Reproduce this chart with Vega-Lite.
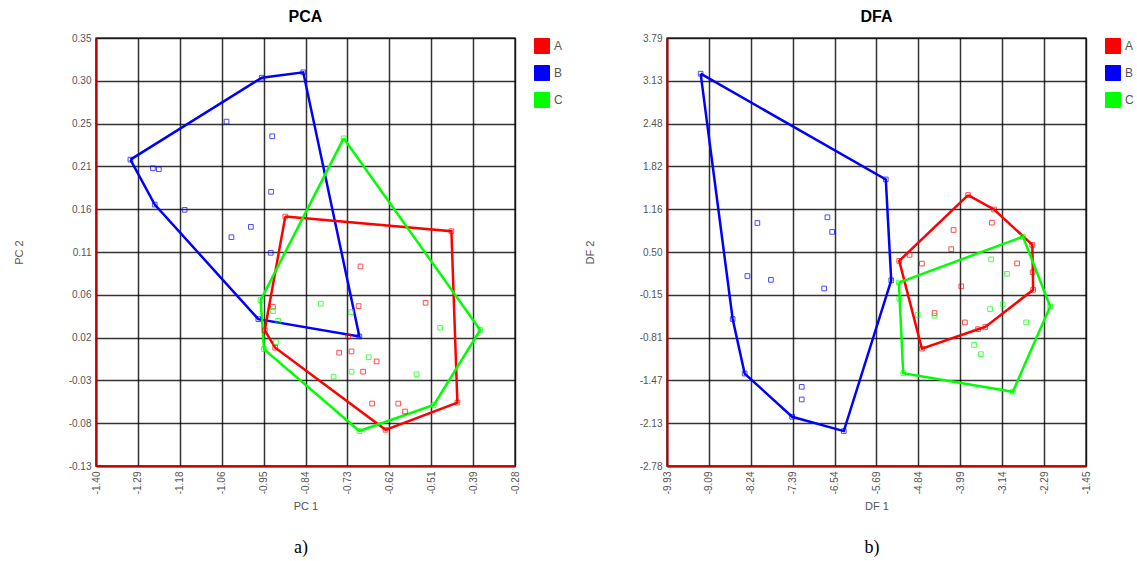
{
  "$schema": "https://vega.github.io/schema/vega-lite/v6.json",
  "background": "white",
  "padding": {"left": 12, "top": 8, "right": 5, "bottom": 4},
  "config": {
    "view": {"stroke": "#444", "strokeWidth": 1.5},
    "font": "Liberation Sans",
    "axis": {"labelColor": "#555", "labelFontSize": 10, "labelFont": "Liberation Sans", "ticks": false, "domainColor": "#c00000", "domainWidth": 2, "gridColor": "#000", "gridWidth": 1.5, "gridOpacity": 0.8, "titleFontSize": 11, "titleFontWeight": "normal", "titleColor": "#555", "titleFont": "Liberation Sans", "labelPadding": 5},
    "axisX": {"labelAngle": -90, "titlePadding": 7},
    "axisY": {"titlePadding": 44},
    "title": {"fontSize": 16, "fontWeight": "bold", "color": "#000", "font": "Liberation Sans", "offset": 8},
    "legend": {"orient": "right", "offset": 19, "padding": 0, "symbolType": "square", "symbolSize": 225, "labelFontSize": 12, "labelColor": "#555", "labelFont": "Liberation Sans", "rowPadding": 7, "labelOffset": 4}
  },
  "datasets": {
    "pca_pts": [
      {"g": "B", "x": -1.308, "y": 0.2136}, {"g": "B", "x": -0.957, "y": 0.3055}, {"g": "B", "x": -0.846, "y": 0.3115}, {"g": "B", "x": -0.696, "y": 0.0153}, {"g": "B", "x": -0.966, "y": 0.0347}, {"g": "B", "x": -1.243, "y": 0.1632},
      {"g": "B", "x": -1.248, "y": 0.2039}, {"g": "B", "x": -1.232, "y": 0.2028}, {"g": "B", "x": -1.163, "y": 0.1573}, {"g": "B", "x": -1.051, "y": 0.2562}, {"g": "B", "x": -0.929, "y": 0.2398}, {"g": "B", "x": -0.932, "y": 0.1775}, {"g": "B", "x": -0.986, "y": 0.1382}, {"g": "B", "x": -1.038, "y": 0.1266}, {"g": "B", "x": -0.933, "y": 0.1091},
      {"g": "A", "x": -0.894, "y": 0.1498}, {"g": "A", "x": -0.45, "y": 0.1333}, {"g": "A", "x": -0.434, "y": -0.0589}, {"g": "A", "x": -0.626, "y": -0.0894}, {"g": "A", "x": -0.921, "y": 0.0027}, {"g": "A", "x": -0.949, "y": 0.0221},
      {"g": "A", "x": -0.693, "y": 0.0938}, {"g": "A", "x": -0.927, "y": 0.0486}, {"g": "A", "x": -0.698, "y": 0.0493}, {"g": "A", "x": -0.519, "y": 0.0531}, {"g": "A", "x": -0.726, "y": 0.015}, {"g": "A", "x": -0.75, "y": -0.0029}, {"g": "A", "x": -0.717, "y": -0.0015}, {"g": "A", "x": -0.65, "y": -0.0127}, {"g": "A", "x": -0.686, "y": -0.0242}, {"g": "A", "x": -0.662, "y": -0.06}, {"g": "A", "x": -0.592, "y": -0.06}, {"g": "A", "x": -0.574, "y": -0.0689},
      {"g": "C", "x": -0.738, "y": 0.2375}, {"g": "C", "x": -0.373, "y": 0.0226}, {"g": "C", "x": -0.497, "y": -0.0616}, {"g": "C", "x": -0.696, "y": -0.0908}, {"g": "C", "x": -0.951, "y": 0.0011}, {"g": "C", "x": -0.96, "y": 0.056},
      {"g": "C", "x": -0.927, "y": 0.0437}, {"g": "C", "x": -0.913, "y": 0.0329}, {"g": "C", "x": -0.919, "y": 0.009}, {"g": "C", "x": -0.799, "y": 0.052}, {"g": "C", "x": -0.718, "y": 0.0426}, {"g": "C", "x": -0.48, "y": 0.0251}, {"g": "C", "x": -0.671, "y": -0.008}, {"g": "C", "x": -0.765, "y": -0.0298}, {"g": "C", "x": -0.717, "y": -0.0242}, {"g": "C", "x": -0.543, "y": -0.0272}
    ],
    "pca_hull": [
      {"g": "B", "o": 0, "x": -1.308, "y": 0.2136}, {"g": "B", "o": 1, "x": -0.957, "y": 0.3055}, {"g": "B", "o": 2, "x": -0.846, "y": 0.3115}, {"g": "B", "o": 3, "x": -0.696, "y": 0.0153}, {"g": "B", "o": 4, "x": -0.966, "y": 0.0347}, {"g": "B", "o": 5, "x": -1.243, "y": 0.1632}, {"g": "B", "o": 6, "x": -1.308, "y": 0.2136},
      {"g": "A", "o": 0, "x": -0.894, "y": 0.1498}, {"g": "A", "o": 1, "x": -0.45, "y": 0.1333}, {"g": "A", "o": 2, "x": -0.434, "y": -0.0589}, {"g": "A", "o": 3, "x": -0.626, "y": -0.0894}, {"g": "A", "o": 4, "x": -0.921, "y": 0.0027}, {"g": "A", "o": 5, "x": -0.949, "y": 0.0221}, {"g": "A", "o": 6, "x": -0.894, "y": 0.1498},
      {"g": "C", "o": 0, "x": -0.738, "y": 0.2375}, {"g": "C", "o": 1, "x": -0.373, "y": 0.0226}, {"g": "C", "o": 2, "x": -0.497, "y": -0.0616}, {"g": "C", "o": 3, "x": -0.696, "y": -0.0908}, {"g": "C", "o": 4, "x": -0.951, "y": 0.0011}, {"g": "C", "o": 5, "x": -0.96, "y": 0.056}, {"g": "C", "o": 6, "x": -0.738, "y": 0.2375}
    ],
    "dfa_pts": [
      {"g": "B", "x": -9.249, "y": 3.242}, {"g": "B", "x": -5.502, "y": 1.619}, {"g": "B", "x": -5.392, "y": 0.07}, {"g": "B", "x": -6.352, "y": -2.244}, {"g": "B", "x": -7.398, "y": -2.024}, {"g": "B", "x": -8.358, "y": -1.361}, {"g": "B", "x": -8.601, "y": -0.524},
      {"g": "B", "x": -8.101, "y": 0.95}, {"g": "B", "x": -6.683, "y": 1.038}, {"g": "B", "x": -6.587, "y": 0.813}, {"g": "B", "x": -8.303, "y": 0.136}, {"g": "B", "x": -7.827, "y": 0.078}, {"g": "B", "x": -6.749, "y": -0.055}, {"g": "B", "x": -7.203, "y": -1.565}, {"g": "B", "x": -7.203, "y": -1.759},
      {"g": "A", "x": -3.836, "y": 1.379}, {"g": "A", "x": -3.31, "y": 1.157}, {"g": "A", "x": -2.536, "y": 0.614}, {"g": "A", "x": -2.52, "y": -0.075}, {"g": "A", "x": -3.488, "y": -0.646}, {"g": "A", "x": -3.634, "y": -0.68}, {"g": "A", "x": -4.772, "y": -0.978}, {"g": "A", "x": -5.23, "y": 0.369},
      {"g": "A", "x": -4.13, "y": 0.843}, {"g": "A", "x": -3.354, "y": 0.955}, {"g": "A", "x": -4.177, "y": 0.548}, {"g": "A", "x": -5.021, "y": 0.461}, {"g": "A", "x": -4.772, "y": 0.327}, {"g": "A", "x": -2.844, "y": 0.33}, {"g": "A", "x": -2.53, "y": 0.193}, {"g": "A", "x": -3.974, "y": -0.022}, {"g": "A", "x": -4.515, "y": -0.432}, {"g": "A", "x": -3.901, "y": -0.576},
      {"g": "C", "x": -5.238, "y": 0.036}, {"g": "C", "x": -2.726, "y": 0.741}, {"g": "C", "x": -2.175, "y": -0.331}, {"g": "C", "x": -2.931, "y": -1.64}, {"g": "C", "x": -5.149, "y": -1.357},
      {"g": "C", "x": -5.228, "y": -0.213}, {"g": "C", "x": -4.855, "y": -0.458}, {"g": "C", "x": -4.515, "y": -0.473}, {"g": "C", "x": -3.37, "y": 0.392}, {"g": "C", "x": -3.05, "y": 0.17}, {"g": "C", "x": -3.391, "y": -0.371}, {"g": "C", "x": -3.137, "y": -0.3}, {"g": "C", "x": -2.661, "y": -0.576}, {"g": "C", "x": -3.715, "y": -0.922}, {"g": "C", "x": -3.577, "y": -1.063}
    ],
    "dfa_hull": [
      {"g": "B", "o": 0, "x": -9.249, "y": 3.242}, {"g": "B", "o": 1, "x": -5.502, "y": 1.619}, {"g": "B", "o": 2, "x": -5.392, "y": 0.07}, {"g": "B", "o": 3, "x": -6.352, "y": -2.244}, {"g": "B", "o": 4, "x": -7.398, "y": -2.024}, {"g": "B", "o": 5, "x": -8.358, "y": -1.361}, {"g": "B", "o": 6, "x": -8.601, "y": -0.524}, {"g": "B", "o": 7, "x": -9.249, "y": 3.242},
      {"g": "A", "o": 0, "x": -3.836, "y": 1.379}, {"g": "A", "o": 1, "x": -3.31, "y": 1.157}, {"g": "A", "o": 2, "x": -2.536, "y": 0.614}, {"g": "A", "o": 3, "x": -2.52, "y": -0.075}, {"g": "A", "o": 4, "x": -3.488, "y": -0.646}, {"g": "A", "o": 5, "x": -3.634, "y": -0.68}, {"g": "A", "o": 6, "x": -4.772, "y": -0.978}, {"g": "A", "o": 7, "x": -5.23, "y": 0.369}, {"g": "A", "o": 8, "x": -3.836, "y": 1.379},
      {"g": "C", "o": 0, "x": -5.238, "y": 0.036}, {"g": "C", "o": 1, "x": -2.726, "y": 0.741}, {"g": "C", "o": 2, "x": -2.175, "y": -0.331}, {"g": "C", "o": 3, "x": -2.931, "y": -1.64}, {"g": "C", "o": 4, "x": -5.149, "y": -1.357}, {"g": "C", "o": 5, "x": -5.238, "y": 0.036}
    ]
  },
  "resolve": {"scale": {"color": "independent"}, "legend": {"color": "independent"}},
  "spacing": 19,
  "hconcat": [
    {
      "title": {"text": "a)", "orient": "bottom", "anchor": "middle", "font": "Liberation Serif", "fontSize": 18, "fontWeight": "normal", "color": "#000", "offset": 26, "dx": 13},
      "resolve": {"scale": {"color": "independent"}, "legend": {"color": "independent"}},
      "vconcat": [
        {
          "width": 419,
          "height": 428,
          "title": {"text": "PCA"},
          "layer": [
            {
              "data": {"name": "pca_hull"},
              "mark": {"type": "line", "strokeWidth": 2.5},
              "encoding": {
                "x": {"field": "x", "type": "quantitative", "title": "PC 1", "scale": {"domain": [-1.4, -0.28], "nice": false, "zero": false},
                  "axis": {"values": [-1.4, -1.288, -1.176, -1.064, -0.952, -0.84, -0.728, -0.616, -0.504, -0.392, -0.28], "labelExpr": "['-1.40','-1.29','-1.18','-1.06','-0.95','-0.84','-0.73','-0.62','-0.51','-0.39','-0.28'][round((datum.value+1.4)/0.112)]"}},
                "y": {"field": "y", "type": "quantitative", "title": "PC 2", "scale": {"domain": [-0.13, 0.35], "nice": false, "zero": false},
                  "axis": {"values": [-0.13, -0.082, -0.034, 0.014, 0.062, 0.11, 0.158, 0.206, 0.254, 0.302, 0.35], "labelExpr": "['-0.13','-0.08','-0.03','0.02','0.06','0.11','0.16','0.21','0.25','0.30','0.35'][round((datum.value+0.13)/0.048)]"}},
                "color": {"field": "g", "type": "nominal", "scale": {"domain": ["A", "B", "C"], "range": ["#ff0000", "#0000ff", "#00ff00"]},
                  "legend": {"title": null, "encode": {"symbols": {"update": {"fill": {"signal": "datum.value === 'A' ? '#ff0000' : datum.value === 'B' ? '#0000ff' : '#00ff00'"}, "stroke": {"value": "#999"}, "strokeWidth": {"value": 1}, "opacity": {"value": 1}}}}}},
                "order": {"field": "o", "type": "quantitative"}
              }
            },
            {
              "data": {"name": "pca_pts"},
              "mark": {"type": "point", "shape": "square", "filled": false, "size": 22, "strokeWidth": 1, "opacity": 0.7},
              "encoding": {
                "x": {"field": "x", "type": "quantitative"},
                "y": {"field": "y", "type": "quantitative"},
                "color": {"field": "g", "type": "nominal"}
              }
            }
          ]
        }
      ]
    },
    {
      "title": {"text": "b)", "orient": "bottom", "anchor": "middle", "font": "Liberation Serif", "fontSize": 18, "fontWeight": "normal", "color": "#000", "offset": 26, "dx": 13},
      "resolve": {"scale": {"color": "independent"}, "legend": {"color": "independent"}},
      "vconcat": [
        {
          "width": 419,
          "height": 428,
          "title": {"text": "DFA"},
          "layer": [
            {
              "data": {"name": "dfa_hull"},
              "mark": {"type": "line", "strokeWidth": 2.5},
              "encoding": {
                "x": {"field": "x", "type": "quantitative", "title": "DF 1", "scale": {"domain": [-9.93, -1.45], "nice": false, "zero": false},
                  "axis": {"values": [-9.93, -9.082, -8.234, -7.386, -6.538, -5.69, -4.842, -3.994, -3.146, -2.298, -1.45], "labelExpr": "['-9.93','-9.09','-8.24','-7.39','-6.54','-5.69','-4.84','-3.99','-3.14','-2.29','-1.45'][round((datum.value+9.93)/0.848)]"}},
                "y": {"field": "y", "type": "quantitative", "title": "DF 2", "scale": {"domain": [-2.78, 3.79], "nice": false, "zero": false},
                  "axis": {"values": [-2.78, -2.123, -1.466, -0.809, -0.152, 0.505, 1.162, 1.819, 2.476, 3.133, 3.79], "labelExpr": "['-2.78','-2.13','-1.47','-0.81','-0.15','0.50','1.16','1.82','2.48','3.13','3.79'][round((datum.value+2.78)/0.657)]"}},
                "color": {"field": "g", "type": "nominal", "scale": {"domain": ["A", "B", "C"], "range": ["#ff0000", "#0000ff", "#00ff00"]},
                  "legend": {"title": null, "encode": {"symbols": {"update": {"fill": {"signal": "datum.value === 'A' ? '#ff0000' : datum.value === 'B' ? '#0000ff' : '#00ff00'"}, "stroke": {"value": "#999"}, "strokeWidth": {"value": 1}, "opacity": {"value": 1}}}}}},
                "order": {"field": "o", "type": "quantitative"}
              }
            },
            {
              "data": {"name": "dfa_pts"},
              "mark": {"type": "point", "shape": "square", "filled": false, "size": 22, "strokeWidth": 1, "opacity": 0.7},
              "encoding": {
                "x": {"field": "x", "type": "quantitative"},
                "y": {"field": "y", "type": "quantitative"},
                "color": {"field": "g", "type": "nominal"}
              }
            }
          ]
        }
      ]
    }
  ]
}
